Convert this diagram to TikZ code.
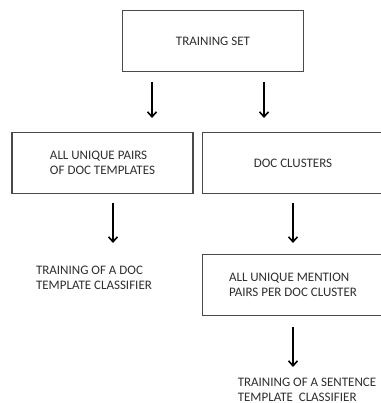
\documentclass[tikz,border=0pt]{standalone}
\usepackage{fontspec}
\setmainfont{Carlito}
\usetikzlibrary{arrows.meta}
\definecolor{boxgray}{HTML}{4A4A4A}
\definecolor{textgray}{HTML}{2E2E2E}

\begin{document}
\begin{tikzpicture}[x=1pt,y=-1pt,
  stagebox/.style={draw=boxgray, line width=1.2pt, minimum width=181pt, minimum height=61pt,
    align=left, text=textgray, font=\fontsize{13}{15}\selectfont},
  stagetext/.style={align=left, text=textgray, font=\fontsize{13}{15}\selectfont},
  flow/.style={line width=1.6pt, -{Straight Barb[length=5pt,width=9pt]}}]
\useasboundingbox (0,0) rectangle (380,403);
\node[stagebox] (trainset) at (213,41) {TRAINING SET};
\node[stagebox] (docpairs) at (102.5,163) {ALL UNIQUE PAIRS\\OF DOC TEMPLATES};
\node[stagebox] (clusters) at (293,163) {DOC CLUSTERS};
\node[stagebox] (mentions) at (293,285) {ALL UNIQUE MENTION\\PAIRS PER DOC CLUSTER};
\node[stagetext] (doctrain) at (94,277.5) {TRAINING OF A DOC\\TEMPLATE CLASSIFIER};
\node[stagetext] (senttrain) at (307,389.5) {TRAINING OF A SENTENCE\\TEMPLATE\ \ CLASSIFIER};
\coordinate (a1) at (152,82);  \coordinate (b1) at (152,118);
\coordinate (a2) at (264,82);  \coordinate (b2) at (264,118);
\coordinate (a3) at (113,203); \coordinate (b3) at (113,243);
\coordinate (a4) at (293,203); \coordinate (b4) at (293,243);
\coordinate (a5) at (293,327); \coordinate (b5) at (293,367);
\draw[flow] (a1) -- (b1);
\draw[flow] (a2) -- (b2);
\draw[flow] (a3) -- (b3);
\draw[flow] (a4) -- (b4);
\draw[flow] (a5) -- (b5);
\end{tikzpicture}
\end{document}
